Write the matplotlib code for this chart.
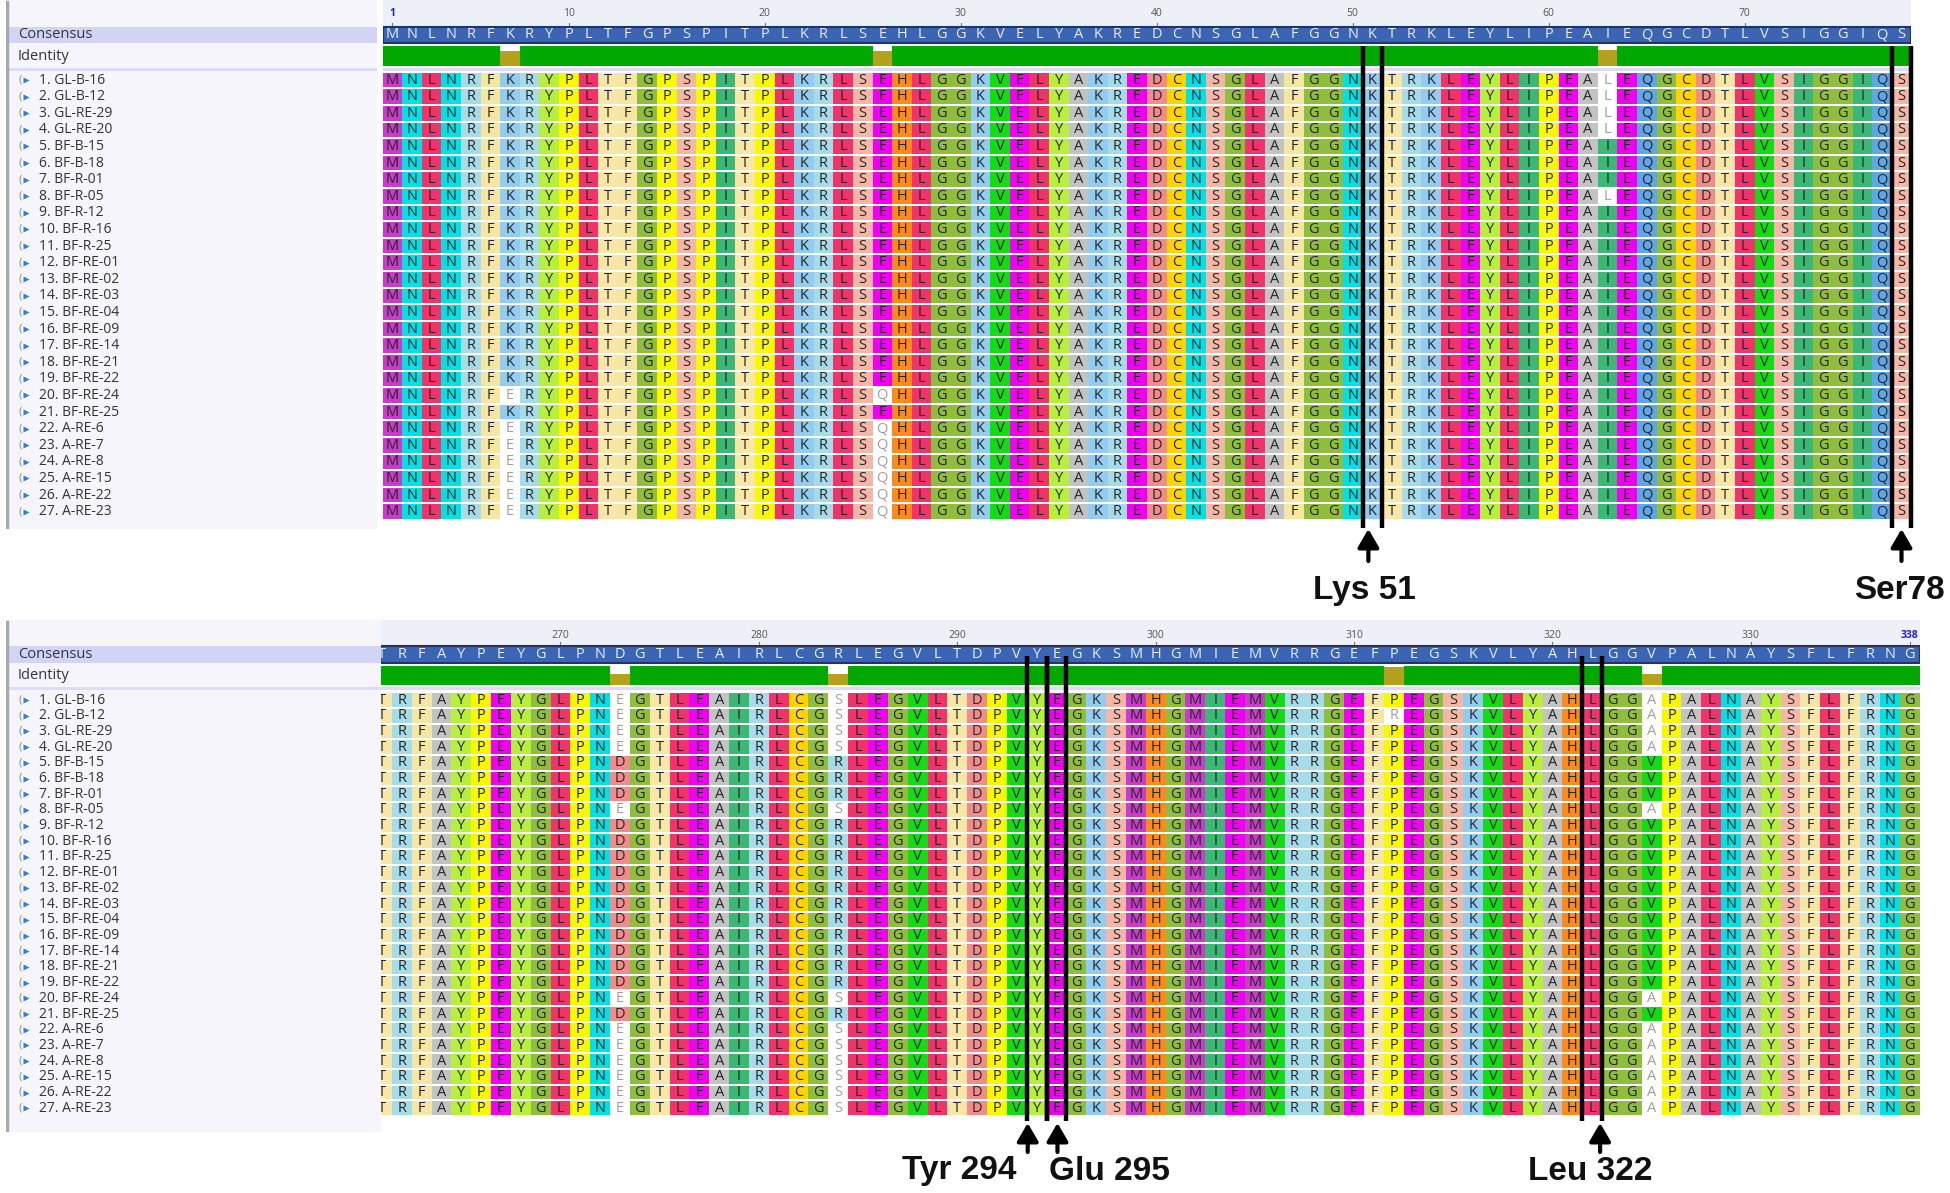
import matplotlib
matplotlib.use('Agg')
import matplotlib.pyplot as plt
from matplotlib.patches import Rectangle
from matplotlib.collections import PatchCollection
from collections import Counter

# ---- data -------------------------------------------------------------
names = ["GL-B-16", "GL-B-12", "GL-RE-29", "GL-RE-20", "BF-B-15", "BF-B-18",
         "BF-R-01", "BF-R-05", "BF-R-12", "BF-R-16", "BF-R-25", "BF-RE-01",
         "BF-RE-02", "BF-RE-03", "BF-RE-04", "BF-RE-09", "BF-RE-14", "BF-RE-21",
         "BF-RE-22", "BF-RE-24", "BF-RE-25", "A-RE-6", "A-RE-7", "A-RE-8",
         "A-RE-15", "A-RE-22", "A-RE-23"]

# region 1..78
top_start = 1
top_base = "MNLNRFKRYPLTFGPSPITPLKRLSEHLGGKVELYAKREDCNSGLAFGGNKTRKLEYLIPEAIEQGCDTLVSIGGIQS"
top_var_pos = [7, 26, 63]
top_var = ["KEL", "KEL", "KEL", "KEL", "KEI", "KEI", "KEI", "KEL", "KEI",
           "KEI", "KEI", "KEI", "KEI", "KEI", "KEI", "KEI", "KEI", "KEI",
           "KEI", "EQI", "KEI", "EQI", "EQI", "EQI", "EQI", "EQI", "EQI"]
top_ticks = [1, 10, 20, 30, 40, 50, 60, 70]
top_marks = [(51, "Lys 51"), (78, "Ser78")]

# region 261..338
bot_start = 261
bot_base = "TRFAYPEYGLPNDGTLEAIRLCGRLEGVLTDPVYEGKSMHGMIEMVRRGEFPEGSKVLYAHLGGVPALNAYSFLFRNG"
bot_var_pos = [273, 284, 312, 325]
bot_var = ["ESPA", "ESRA", "ESPA", "ESPA", "DRPV", "DRPV", "DRPV", "ESPA", "DRPV",
           "DRPV", "DRPV", "DRPV", "DRPV", "DRPV", "DRPV", "DRPV", "DRPV", "DRPV",
           "DRPV", "ESPA", "DRPV", "ESPA", "ESPA", "ESPA", "ESPA", "ESPA", "ESPA"]
bot_ticks = [270, 280, 290, 300, 310, 320, 330, 338]
bot_marks = [(294, "Tyr 294"), (295, "Glu 295"), (322, "Leu 322")]

aa_colors = {
    'A': '#c3c3c3', 'C': '#ffd400', 'D': '#f28c8c', 'E': '#f000f0', 'F': '#f5e6a3',
    'G': '#8fbd3e', 'H': '#ff8a1c', 'I': '#3bb873', 'K': '#92ccf0', 'L': '#f2336b',
    'M': '#c93bc9', 'N': '#00e1e6', 'P': '#f8f800', 'Q': '#5ea6e6', 'R': '#a6dcea',
    'S': '#f4b6a6', 'T': '#f9e7a8', 'V': '#14dc14', 'Y': '#b6ef3c'}

W, H = 1950, 1193
SEQ_FONT = ['Open Sans', 'DejaVu Sans']
LBL_FONT = ['Liberation Sans Narrow', 'Liberation Sans', 'DejaVu Sans']


def build_seqs(base, start, var_pos, var):
    seqs = []
    for v in var:
        s = list(base)
        for p, c in zip(var_pos, v):
            s[p - start] = c
        seqs.append("".join(s))
    return seqs


def draw_panel(fig, start, seqs, ticks, g):
    ncol = len(seqs[0])
    nrow = len(seqs)
    end = start + ncol - 1

    def r(ypx):
        return 1 + (ypx - g['row1']) / g['dy']

    ax = fig.add_axes([g['col_left'] / W, 1 - g['bottom'] / H,
                       ncol * g['col_w'] / W, (g['bottom'] - g['top']) / H])
    ax.set_xlim(start - 0.5, end + 0.5)
    ax.set_ylim(r(g['bottom']), r(g['top']))
    ax.axis('off')

    # ruler strip
    ax.add_patch(Rectangle((start - 0.5, r(g['top'])), ncol, r(g['cons'][0]) - r(g['top']),
                           facecolor='#eef0f8', edgecolor='none', zorder=0))
    for t in ticks:
        col = '#2222cc' if t in (1, 338) else '#555555'
        ax.text(t, r(g['ruler']), str(t), ha='center', va='center', fontsize=7.5,
                color=col, family=SEQ_FONT, fontweight='bold' if t in (1, 338) else 'normal')
        ax.plot([t, t], [r(g['cons'][0] - 4), r(g['cons'][0])], color='#777777', lw=0.8)

    # consensus
    cons = []
    frac = []
    for j in range(ncol):
        cnt = Counter(s[j] for s in seqs)
        c, n = cnt.most_common(1)[0]
        cons.append(c)
        frac.append(n / nrow)
    c0, c1 = r(g['cons'][0]), r(g['cons'][1])
    ax.add_patch(Rectangle((start - 0.5, c0), ncol, c1 - c0, facecolor='#3b64b2',
                           edgecolor='#1e3566', lw=1.5, zorder=2))
    for j, c in enumerate(cons):
        ax.text(start + j, (c0 + c1) / 2, c, ha='center', va='center', fontsize=10.5,
                color='#e4ecff', family=SEQ_FONT, zorder=3)

    # identity
    i0, i1 = r(g['ident'][0]), r(g['ident'][1])
    xs = [start + j for j in range(ncol)]
    hts = [f * (i1 - i0) for f in frac]
    cols = ['#00a800' if f == 1 else '#b5a21c' for f in frac]
    ax.bar(xs, [i1 - i0] * ncol, bottom=i0, width=1.0, color='white', zorder=1)
    ax.bar(xs, hts, bottom=[i1 - h for h in hts], width=1.0, color=cols, zorder=2)
    ax.add_patch(Rectangle((start - 0.5, r(g['ident'][1] + 2)), ncol, r(5) - r(2),
                           facecolor='#dcdcf4', edgecolor='none', zorder=1))

    # sequence cells
    hcell = g['cell'] / g['dy']
    rects, fcs = [], []
    for i, s in enumerate(seqs):
        y = i + 1
        for j, c in enumerate(s):
            agree = c == cons[j]
            rects.append(Rectangle((start + j - 0.5, y - hcell / 2), 1, hcell))
            fcs.append(aa_colors[c] if agree else 'white')
            ax.text(start + j, y, c, ha='center', va='center', fontsize=10.5,
                    color='#262626' if agree else '#a0a0a0', family=SEQ_FONT, zorder=3)
    ax.add_collection(PatchCollection(rects, facecolors=fcs, edgecolors='none', zorder=1))

    # highlight boxes, arrows, labels
    y_top = r(g['line_top'])
    y_bot = r(g['line_bot'])
    for pos, label, dx, ha, lx in g['marks']:
        ax.vlines([pos - 0.5, pos + 0.5], y_top, y_bot, colors='black', lw=3.2,
                  zorder=5, clip_on=False)
        ax.annotate('', xy=(pos + dx, r(g['arrow'][0])), xytext=(pos + dx, r(g['arrow'][1])),
                    arrowprops=dict(arrowstyle='-|>,head_length=0.55,head_width=0.32',
                                    color='black', lw=3, mutation_scale=20,
                                    shrinkA=0, shrinkB=0),
                    annotation_clip=False)
        ax.text(pos + lx, r(g['label']), label, ha=ha, va='center', fontsize=24,
                fontweight='bold', family=LBL_FONT, color='#111111', clip_on=False)

    # name panel
    nw = g['name_right'] - 6
    nax = fig.add_axes([6 / W, 1 - g['bottom'] / H, nw / W, (g['bottom'] - g['top']) / H])
    nax.set_xlim(0, nw)
    nax.set_ylim(r(g['bottom']), r(g['top']))
    nax.axis('off')
    nax.add_patch(Rectangle((0, r(g['top'])), nw, r(g['bottom']) - r(g['top']),
                            facecolor='#f5f5fb', edgecolor='none', zorder=0))
    nax.add_patch(Rectangle((0, c0), nw, c1 - c0, facecolor='#d3d3f5',
                            edgecolor='none', zorder=1))
    nax.add_patch(Rectangle((0, r(g['ident'][1] + 2)), nw, r(5) - r(2),
                            facecolor='#dcdcf4', edgecolor='none', zorder=1))
    nax.plot([1, 1], [r(g['top'] + 2), r(g['bottom'] - 2)], color='#a8a8b0', lw=2.5)
    nax.text(12, (c0 + c1) / 2, 'Consensus', ha='left', va='center', fontsize=10.5,
             color='#333344', family=SEQ_FONT, zorder=2)
    nax.text(12, (i0 + i1) / 2, 'Identity', ha='left', va='center', fontsize=10.5,
             color='#333344', family=SEQ_FONT, zorder=2)
    for i, nm in enumerate(names):
        y = i + 1
        nax.text(12, y, '(', ha='left', va='center', fontsize=8, color='#888888',
                 family=SEQ_FONT)
        nax.plot(20, y, marker='>', color='#2f7fd6', ms=5, mec='none')
        nax.text(33, y, f"{i + 1}. {nm}", ha='left', va='center', fontsize=10,
                 color='#333333', family=SEQ_FONT)
    return ax


top_seqs = build_seqs(top_base, top_start, top_var_pos, top_var)
bot_seqs = build_seqs(bot_base, bot_start, bot_var_pos, bot_var)

fig = plt.figure(figsize=(W / 100, H / 100), dpi=100)
fig.patch.set_facecolor('white')

top_geom = dict(row1=80, dy=16.6, cell=14.6, top=0, bottom=529, col_left=382.5,
                col_w=19.6, name_right=377, cons=(27, 43), ident=(46, 66), ruler=14,
                line_top=46, line_bot=528, arrow=(529, 561), label=590,
                marks=[(p, l, dx, 'center', lx) for (p, l), dx, lx in
                       zip(top_marks, [-0.2, 0.0], [-0.4, -0.1])])
bot_geom = dict(row1=700, dy=15.7, cell=13.7, top=620, bottom=1132, col_left=372,
                col_w=19.84, name_right=381, cons=(646, 663), ident=(666, 685), ruler=636,
                line_top=656, line_bot=1121, arrow=(1123, 1152), label=1171,
                marks=[(bot_marks[0][0], bot_marks[0][1], -0.45, 'right', -1.0),
                       (bot_marks[1][0], bot_marks[1][1], 0.05, 'left', -0.4),
                       (bot_marks[2][0], bot_marks[2][1], 0.4, 'center', -0.1)])

draw_panel(fig, top_start, top_seqs, top_ticks, top_geom)
draw_panel(fig, bot_start, bot_seqs, bot_ticks, bot_geom)

plt.savefig('out.png', dpi=100, facecolor='white')
